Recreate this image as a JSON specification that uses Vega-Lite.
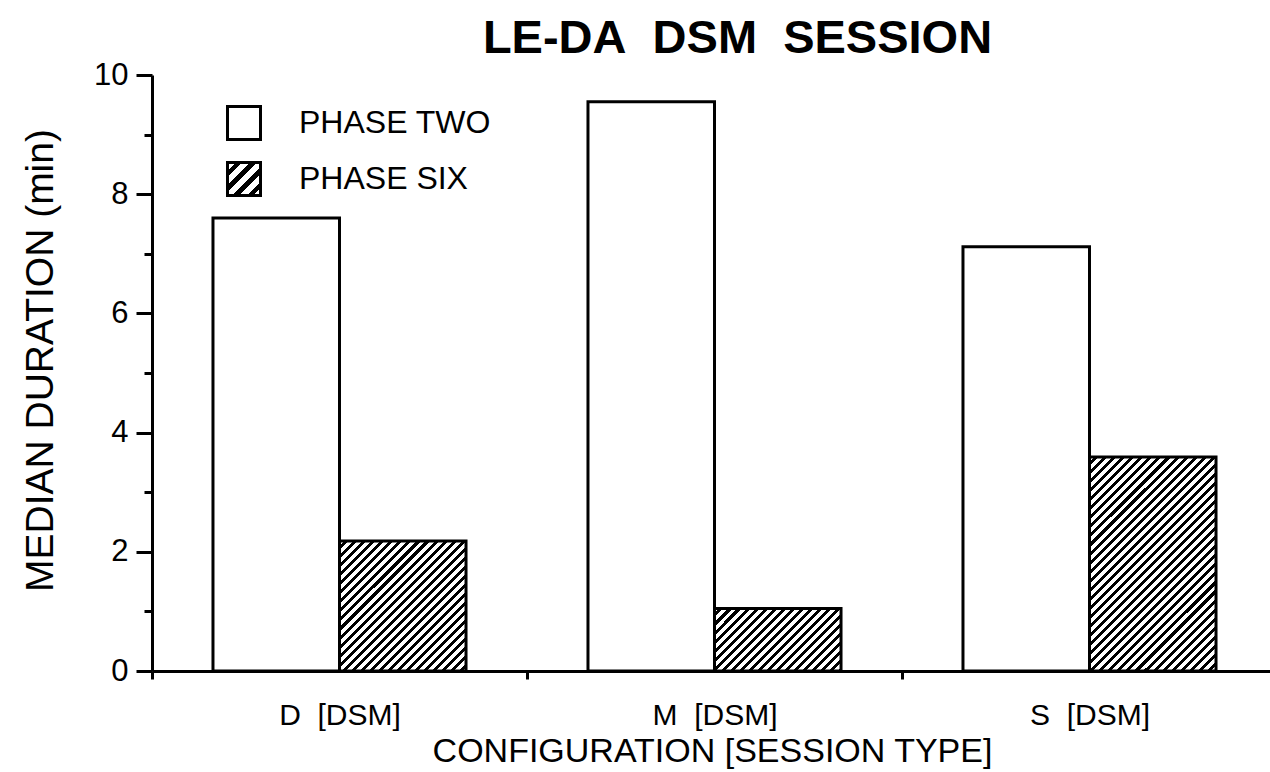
{
  "$schema": "https://vega.github.io/schema/vega-lite/v6.json",
  "width": 1125,
  "height": 596,
  "autosize": "none",
  "padding": {"left": 152, "top": 75, "right": -7, "bottom": 101},
  "background": "white",
  "config": {"view": {"stroke": null}, "font": "Liberation Sans"},
  "params": [
    {"name": "hatch", "value": [
      {"offset":0,"color":"#fff"},{"offset":0.01375,"color":"#fff"},{"offset":0.01375,"color":"#000"},{"offset":0.025,"color":"#000"},
      {"offset":0.025,"color":"#fff"},{"offset":0.03875,"color":"#fff"},{"offset":0.03875,"color":"#000"},{"offset":0.05,"color":"#000"},
      {"offset":0.05,"color":"#fff"},{"offset":0.06375,"color":"#fff"},{"offset":0.06375,"color":"#000"},{"offset":0.075,"color":"#000"},
      {"offset":0.075,"color":"#fff"},{"offset":0.08875,"color":"#fff"},{"offset":0.08875,"color":"#000"},{"offset":0.1,"color":"#000"},
      {"offset":0.1,"color":"#fff"},{"offset":0.11375,"color":"#fff"},{"offset":0.11375,"color":"#000"},{"offset":0.125,"color":"#000"},
      {"offset":0.125,"color":"#fff"},{"offset":0.13875,"color":"#fff"},{"offset":0.13875,"color":"#000"},{"offset":0.15,"color":"#000"},
      {"offset":0.15,"color":"#fff"},{"offset":0.16375,"color":"#fff"},{"offset":0.16375,"color":"#000"},{"offset":0.175,"color":"#000"},
      {"offset":0.175,"color":"#fff"},{"offset":0.18875,"color":"#fff"},{"offset":0.18875,"color":"#000"},{"offset":0.2,"color":"#000"},
      {"offset":0.2,"color":"#fff"},{"offset":0.21375,"color":"#fff"},{"offset":0.21375,"color":"#000"},{"offset":0.225,"color":"#000"},
      {"offset":0.225,"color":"#fff"},{"offset":0.23875,"color":"#fff"},{"offset":0.23875,"color":"#000"},{"offset":0.25,"color":"#000"},
      {"offset":0.25,"color":"#fff"},{"offset":0.26375,"color":"#fff"},{"offset":0.26375,"color":"#000"},{"offset":0.275,"color":"#000"},
      {"offset":0.275,"color":"#fff"},{"offset":0.28875,"color":"#fff"},{"offset":0.28875,"color":"#000"},{"offset":0.3,"color":"#000"},
      {"offset":0.3,"color":"#fff"},{"offset":0.31375,"color":"#fff"},{"offset":0.31375,"color":"#000"},{"offset":0.325,"color":"#000"},
      {"offset":0.325,"color":"#fff"},{"offset":0.33875,"color":"#fff"},{"offset":0.33875,"color":"#000"},{"offset":0.35,"color":"#000"},
      {"offset":0.35,"color":"#fff"},{"offset":0.36375,"color":"#fff"},{"offset":0.36375,"color":"#000"},{"offset":0.375,"color":"#000"},
      {"offset":0.375,"color":"#fff"},{"offset":0.38875,"color":"#fff"},{"offset":0.38875,"color":"#000"},{"offset":0.4,"color":"#000"},
      {"offset":0.4,"color":"#fff"},{"offset":0.41375,"color":"#fff"},{"offset":0.41375,"color":"#000"},{"offset":0.425,"color":"#000"},
      {"offset":0.425,"color":"#fff"},{"offset":0.43875,"color":"#fff"},{"offset":0.43875,"color":"#000"},{"offset":0.45,"color":"#000"},
      {"offset":0.45,"color":"#fff"},{"offset":0.46375,"color":"#fff"},{"offset":0.46375,"color":"#000"},{"offset":0.475,"color":"#000"},
      {"offset":0.475,"color":"#fff"},{"offset":0.48875,"color":"#fff"},{"offset":0.48875,"color":"#000"},{"offset":0.5,"color":"#000"},
      {"offset":0.5,"color":"#fff"},{"offset":0.51375,"color":"#fff"},{"offset":0.51375,"color":"#000"},{"offset":0.525,"color":"#000"},
      {"offset":0.525,"color":"#fff"},{"offset":0.53875,"color":"#fff"},{"offset":0.53875,"color":"#000"},{"offset":0.55,"color":"#000"},
      {"offset":0.55,"color":"#fff"},{"offset":0.56375,"color":"#fff"},{"offset":0.56375,"color":"#000"},{"offset":0.575,"color":"#000"},
      {"offset":0.575,"color":"#fff"},{"offset":0.58875,"color":"#fff"},{"offset":0.58875,"color":"#000"},{"offset":0.6,"color":"#000"},
      {"offset":0.6,"color":"#fff"},{"offset":0.61375,"color":"#fff"},{"offset":0.61375,"color":"#000"},{"offset":0.625,"color":"#000"},
      {"offset":0.625,"color":"#fff"},{"offset":0.63875,"color":"#fff"},{"offset":0.63875,"color":"#000"},{"offset":0.65,"color":"#000"},
      {"offset":0.65,"color":"#fff"},{"offset":0.66375,"color":"#fff"},{"offset":0.66375,"color":"#000"},{"offset":0.675,"color":"#000"},
      {"offset":0.675,"color":"#fff"},{"offset":0.68875,"color":"#fff"},{"offset":0.68875,"color":"#000"},{"offset":0.7,"color":"#000"},
      {"offset":0.7,"color":"#fff"},{"offset":0.71375,"color":"#fff"},{"offset":0.71375,"color":"#000"},{"offset":0.725,"color":"#000"},
      {"offset":0.725,"color":"#fff"},{"offset":0.73875,"color":"#fff"},{"offset":0.73875,"color":"#000"},{"offset":0.75,"color":"#000"},
      {"offset":0.75,"color":"#fff"},{"offset":0.76375,"color":"#fff"},{"offset":0.76375,"color":"#000"},{"offset":0.775,"color":"#000"},
      {"offset":0.775,"color":"#fff"},{"offset":0.78875,"color":"#fff"},{"offset":0.78875,"color":"#000"},{"offset":0.8,"color":"#000"},
      {"offset":0.8,"color":"#fff"},{"offset":0.81375,"color":"#fff"},{"offset":0.81375,"color":"#000"},{"offset":0.825,"color":"#000"},
      {"offset":0.825,"color":"#fff"},{"offset":0.83875,"color":"#fff"},{"offset":0.83875,"color":"#000"},{"offset":0.85,"color":"#000"},
      {"offset":0.85,"color":"#fff"},{"offset":0.86375,"color":"#fff"},{"offset":0.86375,"color":"#000"},{"offset":0.875,"color":"#000"},
      {"offset":0.875,"color":"#fff"},{"offset":0.88875,"color":"#fff"},{"offset":0.88875,"color":"#000"},{"offset":0.9,"color":"#000"},
      {"offset":0.9,"color":"#fff"},{"offset":0.91375,"color":"#fff"},{"offset":0.91375,"color":"#000"},{"offset":0.925,"color":"#000"},
      {"offset":0.925,"color":"#fff"},{"offset":0.93875,"color":"#fff"},{"offset":0.93875,"color":"#000"},{"offset":0.95,"color":"#000"},
      {"offset":0.95,"color":"#fff"},{"offset":0.96375,"color":"#fff"},{"offset":0.96375,"color":"#000"},{"offset":0.975,"color":"#000"},
      {"offset":0.975,"color":"#fff"},{"offset":0.98875,"color":"#fff"},{"offset":0.98875,"color":"#000"},{"offset":1,"color":"#000"}
    ]}
  ],
  "title": {
    "text": "LE-DA\u00a0\u00a0DSM\u00a0\u00a0SESSION",
    "fontSize": 47,
    "fontWeight": "bold",
    "font": "Liberation Sans",
    "color": "black",
    "anchor": "middle",
    "offset": -4,
    "dx": 23
  },
  "data": {
    "values": [
      {"config": "D [DSM]", "phase": "PHASE TWO", "duration": 7.6},
      {"config": "D [DSM]", "phase": "PHASE SIX", "duration": 2.18},
      {"config": "M [DSM]", "phase": "PHASE TWO", "duration": 9.55},
      {"config": "M [DSM]", "phase": "PHASE SIX", "duration": 1.05},
      {"config": "S [DSM]", "phase": "PHASE TWO", "duration": 7.12},
      {"config": "S [DSM]", "phase": "PHASE SIX", "duration": 3.59}
    ]
  },
  "encoding": {
    "x": {
      "field": "config",
      "type": "nominal",
      "scale": {"paddingInner": 0, "paddingOuter": 0},
      "axis": {
        "title": "CONFIGURATION [SESSION TYPE]",
        "labelAngle": 0,
        "tickBand": "extent",
        "tickSize": 8,
        "tickWidth": 3,
        "tickColor": "black",
        "domainWidth": 3,
        "domainColor": "black",
        "labelFontSize": 30,
        "labelFont": "Liberation Sans",
        "labelColor": "black",
        "labelPadding": 21,
        "labelBaseline": "top",
        "labelExpr": "replace(datum.label, ' ', '\u00a0\u00a0')",
        "titleFontSize": 34,
        "titleFontWeight": "normal",
        "titleFont": "Liberation Sans",
        "titleColor": "black",
        "titleX": 560,
        "titleY": 90,
        "titleBaseline": "alphabetic",
        "titleAlign": "center",
        "grid": false
      }
    },
    "xOffset": {
      "field": "phase",
      "type": "nominal",
      "scale": {"domain": ["PHASE TWO", "PHASE SIX"], "paddingInner": 0, "paddingOuter": 0.482}
    },
    "y": {
      "field": "duration",
      "type": "quantitative",
      "scale": {"domain": [0, 10], "nice": false},
      "axis": {
        "title": "MEDIAN DURATION (min)",
        "values": [0, 1, 2, 3, 4, 5, 6, 7, 8, 9, 10],
        "labelExpr": "datum.value % 2 === 0 ? datum.label : ''",
        "tickSize": {"condition": {"test": "datum.value % 2 === 0", "value": 16}, "value": 8},
        "tickWidth": 3,
        "tickColor": "black",
        "domainWidth": 3,
        "domainColor": "black",
        "labelFontSize": 31,
        "labelFont": "Liberation Sans",
        "labelColor": "black",
        "labelPadding": 8,
        "grid": false,
        "titleFontSize": 39,
        "titleFont": "Liberation Sans",
        "titleFontWeight": "normal",
        "titleColor": "black",
        "titleX": -100,
        "titleY": 285,
        "titleAngle": -90,
        "titleBaseline": "alphabetic",
        "titleAlign": "center"
      }
    }
  },
  "layer": [
    {
      "transform": [{"filter": "datum.phase === 'PHASE TWO'"}],
      "mark": {"type": "bar", "stroke": "black", "strokeWidth": 3, "opacity": 1},
      "encoding": {
        "fill": {
          "field": "phase",
          "type": "nominal",
          "scale": {
            "domain": ["PHASE TWO", "PHASE SIX"],
            "range": ["white", {"expr": "{gradient: 'linear', x1: 0, y1: 0, x2: 8.9, y2: 8.9, stops: hatch}"}]
          },
          "legend": {
            "orient": "none",
            "legendX": 74,
            "legendY": 30,
            "title": null,
            "padding": 0,
            "symbolType": "square",
            "symbolSize": 1089,
            "symbolStrokeColor": "black",
            "symbolStrokeWidth": 3,
            "symbolOpacity": 1,
            "labelFontSize": 32,
            "labelFont": "Liberation Sans",
            "labelColor": "black",
            "labelOffset": 37,
            "labelLimit": 0,
            "rowPadding": 10
          }
        }
      }
    },
    {
      "transform": [{"filter": "datum.phase === 'PHASE SIX' && datum.config === 'D [DSM]'"}],
      "mark": {"type": "bar", "stroke": "black", "strokeWidth": 3, "opacity": 1,
               "fill": {"expr": "{gradient: 'linear', x1: 0, y1: 0, x2: 1.392, y2: 1.430, stops: hatch}"}}
    },
    {
      "transform": [{"filter": "datum.phase === 'PHASE SIX' && datum.config === 'M [DSM]'"}],
      "mark": {"type": "bar", "stroke": "black", "strokeWidth": 3, "opacity": 1,
               "fill": {"expr": "{gradient: 'linear', x1: 0, y1: 0, x2: 2.299, y2: 1.137, stops: hatch}"}}
    },
    {
      "transform": [{"filter": "datum.phase === 'PHASE SIX' && datum.config === 'S [DSM]'"}],
      "mark": {"type": "bar", "stroke": "black", "strokeWidth": 3, "opacity": 1,
               "fill": {"expr": "{gradient: 'linear', x1: 0, y1: 0, x2: 0.741, y2: 1.254, stops: hatch}"}}
    }
  ]
}
